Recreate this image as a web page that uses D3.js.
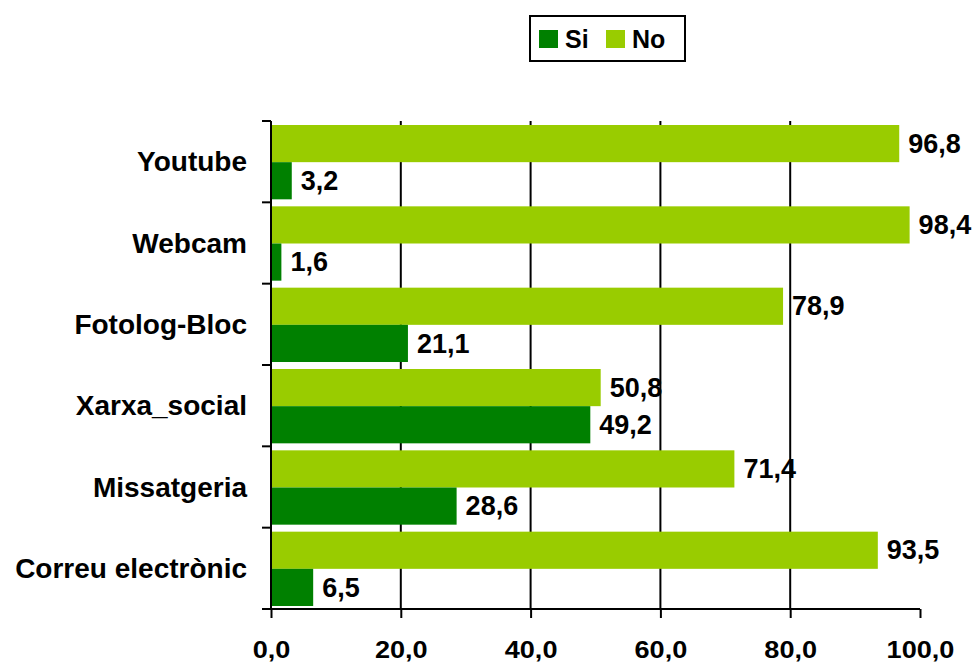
<!DOCTYPE html>
<html>
<head>
<meta charset="utf-8">
<script src="https://cdn.jsdelivr.net/npm/d3@7"></script>
<style>
body { margin: 0; background: #fff; }
svg text { font-family: "Liberation Sans", Arial, sans-serif; font-weight: bold; }
</style>
</head>
<body>
<div id="graph"></div>
<script>
// categories from top to bottom
let categories = ["Youtube", "Webcam", "Fotolog-Bloc", "Xarxa_social", "Missatgeria", "Correu electrònic"];
let siValues = [3.2, 1.6, 21.1, 49.2, 28.6, 6.5];
let noValues = [96.8, 98.4, 78.9, 50.8, 71.4, 93.5];
let seriesNames = ["Si", "No"];
let seriesColors = ["#008000", "#99cc00"];
let xTicks = [0, 20, 40, 60, 80, 100];

let width = 979;
let height = 664;

let fmt = v => v.toFixed(1).replace(".", ",");

let svg = d3.select("#graph").append("svg")
    .attr("width", width)
    .attr("height", height);

let xScale = d3.scaleLinear().domain([0, 100]).range([271, 920]);
let yScale = d3.scaleBand().domain(categories).range([121, 609]);
let inner = d3.scaleBand().domain(["No", "Si"]).range([4, yScale.bandwidth() - 3]);

// vertical grid lines
svg.append("g").selectAll("line")
    .data(xTicks.filter(t => t > 0 && t < 100))
    .enter().append("line")
    .attr("x1", d => xScale(d)).attr("x2", d => xScale(d))
    .attr("y1", 121).attr("y2", 609)
    .attr("stroke", "#000").attr("stroke-width", 2);

let rows = svg.append("g").selectAll("g")
    .data(categories)
    .enter().append("g")
    .attr("transform", d => "translate(0," + yScale(d) + ")");

rows.append("rect")
    .attr("x", xScale(0))
    .attr("y", inner("No"))
    .attr("width", (d, i) => xScale(noValues[i]) - xScale(0))
    .attr("height", inner.bandwidth())
    .attr("fill", seriesColors[1]);

rows.append("rect")
    .attr("x", xScale(0))
    .attr("y", inner("Si"))
    .attr("width", (d, i) => xScale(siValues[i]) - xScale(0))
    .attr("height", inner.bandwidth())
    .attr("fill", seriesColors[0]);

rows.append("text")
    .attr("x", (d, i) => xScale(noValues[i]) + 9)
    .attr("y", inner("No") + inner.bandwidth() / 2)
    .attr("dy", "0.34em")
    .attr("font-size", "27px")
    .text((d, i) => fmt(noValues[i]));

rows.append("text")
    .attr("x", (d, i) => xScale(siValues[i]) + 9)
    .attr("y", inner("Si") + inner.bandwidth() / 2)
    .attr("dy", "0.34em")
    .attr("font-size", "27px")
    .text((d, i) => fmt(siValues[i]));

// y axis
let yAxis = svg.append("g")
    .attr("transform", "translate(" + xScale(0) + ",0)");
yAxis.append("line")
    .attr("x1", 0).attr("x2", 0).attr("y1", 121).attr("y2", 609)
    .attr("stroke", "#000").attr("stroke-width", 2);
yAxis.selectAll(".tk")
    .data(categories.concat(["end"]))
    .enter().append("line")
    .attr("x1", -9).attr("x2", 0)
    .attr("y1", (d, i) => 121 + i * yScale.step())
    .attr("y2", (d, i) => 121 + i * yScale.step())
    .attr("stroke", "#000").attr("stroke-width", 2);
yAxis.selectAll("text")
    .data(categories)
    .enter().append("text")
    .attr("x", -24)
    .attr("y", d => yScale(d) + yScale.bandwidth() / 2)
    .attr("dy", "0.34em")
    .attr("text-anchor", "end")
    .attr("font-size", "28px")
    .text(d => d);

// x axis
let xg = svg.append("g")
    .attr("transform", "translate(0,609)")
    .call(d3.axisBottom(xScale).tickValues(xTicks).tickFormat(fmt).tickSize(9).tickPadding(23));
xg.select(".domain").attr("stroke", "#000").attr("stroke-width", 2)
    .attr("d", "M" + xScale(0) + ",0H" + xScale(100));
xg.selectAll(".tick line").attr("stroke", "#000").attr("stroke-width", 2);
xg.selectAll(".tick text")
    .attr("font-size", "24px")
    .attr("fill", "#000")
    .attr("transform", "scale(1.13,1)")
    .style("font-family", "'Liberation Sans', Arial, sans-serif")
    .style("font-weight", "bold");

// legend
let legend = svg.append("g");
legend.append("rect")
    .attr("x", 530).attr("y", 16).attr("width", 155).attr("height", 45)
    .attr("fill", "#fff").attr("stroke", "#000").attr("stroke-width", 2);
let li = legend.selectAll("g.item")
    .data(seriesNames)
    .enter().append("g")
    .attr("transform", (d, i) => "translate(" + (539 + i * 67) + ",30)");
li.append("rect")
    .attr("width", 19).attr("height", 18)
    .attr("fill", (d, i) => seriesColors[i]);
li.append("text")
    .attr("x", 26).attr("y", 9)
    .attr("dy", "0.35em")
    .attr("font-size", "25px")
    .text(d => d);
</script>
</body>
</html>
